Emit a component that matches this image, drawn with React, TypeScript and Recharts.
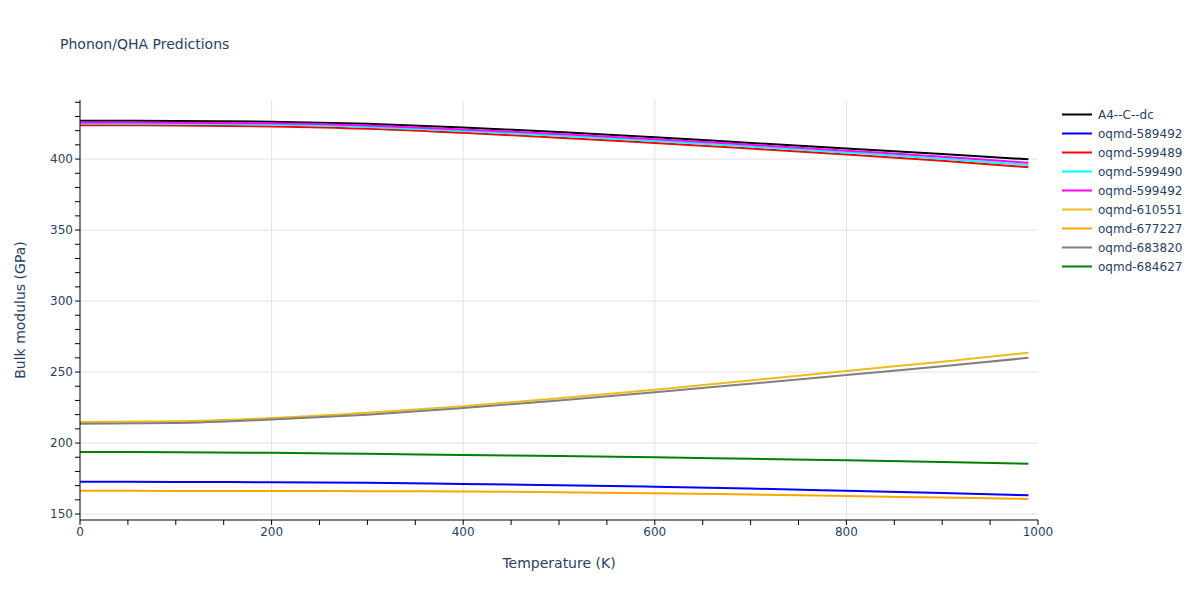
import React from "react";
import { CartesianGrid, Label, Line, LineChart, XAxis, YAxis } from "recharts";

const temperatures = [0, 100, 200, 300, 400, 500, 600, 700, 800, 900, 990];

const a4CDc = [427.0, 426.8, 426.3, 424.8, 422.3, 419.0, 415.3, 411.4, 407.5, 403.5, 399.8];
const oqmd589492 = [172.7, 172.6, 172.4, 172.0, 171.2, 170.3, 169.2, 167.9, 166.4, 164.8, 163.2];
const oqmd599489 = [423.9, 423.7, 423.0, 421.4, 418.5, 415.1, 411.3, 407.4, 403.3, 398.8, 394.2];
const oqmd599490 = [425.0, 424.8, 424.3, 422.6, 419.8, 416.5, 412.8, 408.8, 404.6, 400.3, 395.8];
const oqmd599492 = [425.8, 425.6, 425.2, 423.6, 420.9, 417.6, 414.0, 410.0, 405.9, 401.7, 397.4];
const oqmd610551 = [214.8, 215.3, 217.6, 221.3, 226.0, 231.6, 237.6, 244.1, 250.8, 257.3, 263.6];
const oqmd677227 = [166.4, 166.3, 166.2, 166.1, 165.9, 165.4, 164.6, 163.7, 162.7, 161.6, 160.6];
const oqmd683820 = [213.6, 214.1, 216.5, 220.0, 224.7, 230.0, 235.8, 241.8, 247.9, 254.0, 260.0];
const oqmd684627 = [193.7, 193.5, 193.1, 192.4, 191.6, 190.8, 190.0, 188.9, 187.8, 186.6, 185.5];

const xTicks = [0, 50, 100, 150, 200, 250, 300, 350, 400, 450, 500, 550, 600, 650, 700, 750, 800, 850, 900, 950, 1000];
const yTicks = [150, 160, 170, 180, 190, 200, 210, 220, 230, 240, 250, 260, 270, 280, 290, 300, 310, 320, 330, 340, 350, 360, 370, 380, 390, 400, 410, 420, 430, 440];

const series = [
  { key: "A4--C--dc", values: a4CDc, color: "#000000" },
  { key: "oqmd-589492", values: oqmd589492, color: "#0000ff" },
  { key: "oqmd-599489", values: oqmd599489, color: "#ff0000" },
  { key: "oqmd-599490", values: oqmd599490, color: "#00ffff" },
  { key: "oqmd-599492", values: oqmd599492, color: "#ff00ff" },
  { key: "oqmd-610551", values: oqmd610551, color: "#ecbc1c" },
  { key: "oqmd-677227", values: oqmd677227, color: "#ffa500" },
  { key: "oqmd-683820", values: oqmd683820, color: "#808080" },
  { key: "oqmd-684627", values: oqmd684627, color: "#008000" },
];

const data = temperatures.map((t, i) => {
  const row: Record<string, number> = { t };
  series.forEach((s) => {
    row[s.key] = s.values[i];
  });
  return row;
});

const font = '"DejaVu Sans", Verdana, sans-serif';
const textColor = "#2a3f5f";

const App = () => {
  return (
    <div style={{ position: "absolute", left: 0, top: 0, width: 1200, height: 600, fontFamily: font, background: "#fff" }}>
      <div style={{ position: "absolute", left: 60, top: 36, fontSize: 14, color: textColor }}>
        Phonon/QHA Predictions
      </div>
      <LineChart width={1200} height={600} data={data} margin={{ top: 100, right: 162, bottom: 0, left: 0 }}>
        <CartesianGrid stroke="#e2e2e2" strokeWidth={1} horizontalValues={[150, 200, 250, 300, 350, 400]} verticalValues={[200, 400, 600, 800]} />
        <XAxis
          dataKey="t"
          type="number"
          domain={[0, 1000]}
          ticks={xTicks}
          interval={0}
          height={80}
          tickFormatter={(v: number) => (v % 200 === 0 ? String(v) : "")}
          tick={{ fill: textColor, fontSize: 12, fontFamily: font }}
          tickSize={5}
          tickLine={{ stroke: "#000" }}
          axisLine={{ stroke: "#000" }}
        >
          <Label
            content={() => (
              <text x={559} y={568} textAnchor="middle" fill={textColor} fontSize={14} fontFamily={font}>
                Temperature (K)
              </text>
            )}
          />
        </XAxis>
        <YAxis
          type="number"
          domain={[145.8, 441.6]}
          allowDataOverflow
          ticks={yTicks}
          interval={0}
          width={80}
          tickFormatter={(v: number) => (v % 50 === 0 ? String(v) : "")}
          tick={{ fill: textColor, fontSize: 12, fontFamily: font }}
          tickSize={5}
          tickLine={{ stroke: "#000" }}
          axisLine={{ stroke: "#000" }}
        >
          <Label
            content={() => (
              <text x={25} y={310} transform="rotate(-90 25 310)" textAnchor="middle" fill={textColor} fontSize={14} fontFamily={font}>
                Bulk modulus (GPa)
              </text>
            )}
          />
        </YAxis>
        {series.map((s) => (
          <Line
            key={s.key}
            dataKey={s.key}
            type="monotone"
            stroke={s.color}
            strokeWidth={2}
            dot={false}
            isAnimationActive={false}
          />
        ))}
      </LineChart>
      <div style={{ position: "absolute", left: 1062, top: 105 }}>
        {series.map((s) => (
          <div key={s.key} style={{ display: "flex", alignItems: "center", height: 19, fontSize: 12, color: textColor }}>
            <svg width={36} height={19}>
              <line x1={0} y1={9.5} x2={30} y2={9.5} stroke={s.color} strokeWidth={2} />
            </svg>
            <span>{s.key}</span>
          </div>
        ))}
      </div>
    </div>
  );
};

export default App;
